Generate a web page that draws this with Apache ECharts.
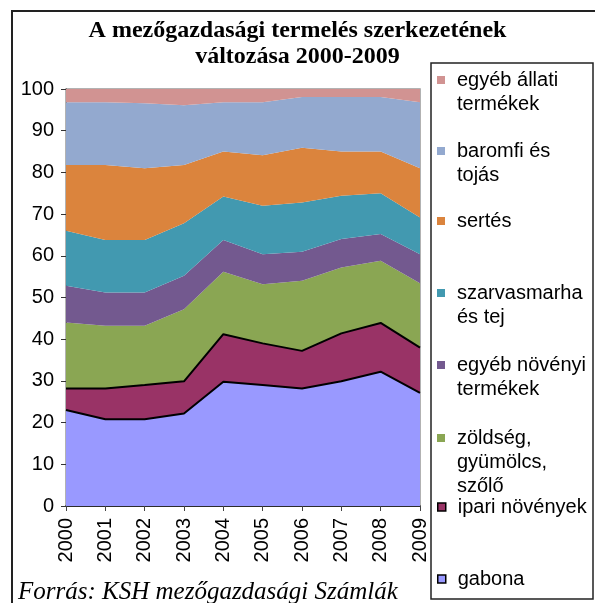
<!DOCTYPE html>
<html>
<head>
<meta charset="utf-8">
<script src="https://cdn.jsdelivr.net/npm/echarts@6/dist/echarts.min.js"></script>
<style>
  html, body { margin: 0; padding: 0; background: #fff; }
  #chart { width: 595px; height: 603px; }
</style>
</head>
<body>
<div id="chart"></div>
<script>
// ============================================================
// DATA (share of production, %)
// ============================================================

const years = ['2000', '2001', '2002', '2003', '2004', '2005', '2006', '2007', '2008', '2009'];

const gabona       = [23.0, 20.8, 20.8, 22.2, 29.8, 29.0, 28.2, 29.9, 32.2, 27.1];
const ipari        = [5.2, 7.4, 8.2, 7.7, 11.4, 10.0, 9.0, 11.5, 11.7, 10.9];
const zoldseg      = [15.8, 15.0, 14.2, 17.3, 15.0, 14.2, 16.8, 15.8, 14.9, 15.4];
const egyebNovenyi = [8.8, 8.0, 8.0, 8.0, 7.6, 7.2, 7.0, 6.8, 6.4, 7.0];
const szarvasmarha = [13.2, 12.6, 12.6, 12.6, 10.4, 11.6, 11.8, 10.4, 9.8, 8.8];
const sertes       = [15.8, 18.0, 17.2, 14.0, 10.8, 12.1, 13.1, 10.6, 10.0, 11.8];
const baromfi      = [15.0, 15.0, 15.6, 14.3, 11.8, 12.7, 12.2, 13.1, 13.1, 15.8];
const egyebAllati  = [3.2, 3.2, 3.4, 3.9, 3.2, 3.2, 1.9, 1.9, 1.9, 3.2];

// bottom -> top stacking order
const seriesNames = ['gabona', 'ipari növények', 'zöldség, gyümölcs, szőlő', 'egyéb növényi termékek',
  'szarvasmarha és tej', 'sertés', 'baromfi és tojás', 'egyéb állati termékek'];
const seriesData = [gabona, ipari, zoldseg, egyebNovenyi, szarvasmarha, sertes, baromfi, egyebAllati];
const labelLines = [['gabona'], ['ipari növények'], ['zöldség,', 'gyümölcs,', 'szőlő'], ['egyéb növényi', 'termékek'],
  ['szarvasmarha', 'és tej'], ['sertés'], ['baromfi és', 'tojás'], ['egyéb állati', 'termékek']];
const colors = ['#9999FF', '#993366', '#8AA653', '#73598F', '#4299B0', '#DB843D', '#93A9CF', '#D19392'];


// ============================================================
// LEGENDS - one per series so each entry sits where Excel put it
// ============================================================

const legendCenters = [80, 151, 221, 293, 365, 438, 507, 579]; // y of first text line, top -> bottom

const legends = legendCenters.map(function(cy, k) {
  const si = seriesNames.length - 1 - k;
  const lines = labelLines[si];
  const n = lines.length;
  // blank lines above keep the icon level with the first line
  const pad = [];
  for (let j = 0; j < n - 1; j++) pad.push(' ');
  const text = pad.concat(lines).join('\n');
  return {
    data: [seriesNames[si]],
    left: 437,
    top: cy - (2 * n - 1) * 12 + 0,
    padding: 0,
    icon: 'rect',
    itemWidth: 8,
    itemHeight: 8,
    selectedMode: false,
    formatter: function() { return text; },
    textStyle: { fontSize: 20, lineHeight: 24, fontFamily: 'Liberation Sans', color: '#000', padding: [0, 0, 0, 7] },
    itemStyle: si < 2 ? { color: colors[si], borderColor: '#000', borderWidth: 1.5 } : { color: colors[si], borderWidth: 0 }
  };
});


// ============================================================
// CHART
// ============================================================

const chartInstance = echarts.init(document.getElementById('chart'));

chartInstance.setOption({
  animation: false,
  backgroundColor: '#fff',
  title: {
    text: 'A mezőgazdasági termelés szerkezetének\nváltozása 2000-2009',
    left: 'center',
    top: 18,
    padding: 0,
    textStyle: { fontFamily: 'Liberation Serif', fontWeight: 'bold', fontSize: 24, lineHeight: 26, color: '#000' }
  },
  legend: legends,
  grid: {
    left: 66, right: 175, top: 89, bottom: 97,
    show: true, borderColor: '#999', borderWidth: 1.5, backgroundColor: 'transparent'
  },
  xAxis: {
    type: 'category',
    data: years,
    boundaryGap: false,
    axisLine: { lineStyle: { color: '#000', width: 1.5 } },
    axisTick: { show: true, length: 5, lineStyle: { color: '#444' } },
    axisLabel: { rotate: 90, interval: 0, margin: 12, fontSize: 20, fontFamily: 'Liberation Sans', color: '#000' },
    splitLine: { show: false }
  },
  yAxis: {
    type: 'value',
    min: 0, max: 100, interval: 10,
    axisLine: { show: true, lineStyle: { color: '#333', width: 1 } },
    axisTick: { show: true, length: 5, lineStyle: { color: '#333' } },
    axisLabel: { margin: 12, fontSize: 20, fontFamily: 'Liberation Sans', color: '#000' },
    splitLine: { show: false }
  },
  series: seriesNames.map(function(name, i) {
    return {
      name: name,
      type: 'line',
      stack: 'total',
      data: seriesData[i],
      symbol: 'none',
      z: i === 0 ? 4 : (i === 1 ? 3 : 2),
      lineStyle: i < 2 ? { color: '#000', width: 2 } : { width: 0 },
      itemStyle: { color: colors[i] },
      areaStyle: { color: colors[i], opacity: 1 },
      emphasis: { disabled: true }
    };
  }),
  graphic: [
    { type: 'rect', shape: { x: 12, y: 11, width: 620, height: 620 }, style: { fill: 'none', stroke: '#222', lineWidth: 2 }, silent: true },
    { type: 'rect', shape: { x: 431, y: 63, width: 162, height: 536 }, style: { fill: 'none', stroke: '#222', lineWidth: 1.5 }, silent: true },
    { type: 'text', left: 18, top: 580,
      style: { text: 'Forrás: KSH mezőgazdasági Számlák', fontFamily: 'Liberation Serif', fontStyle: 'italic', fontSize: 25, fill: '#000' } }
  ]
});
</script>
</body>
</html>
